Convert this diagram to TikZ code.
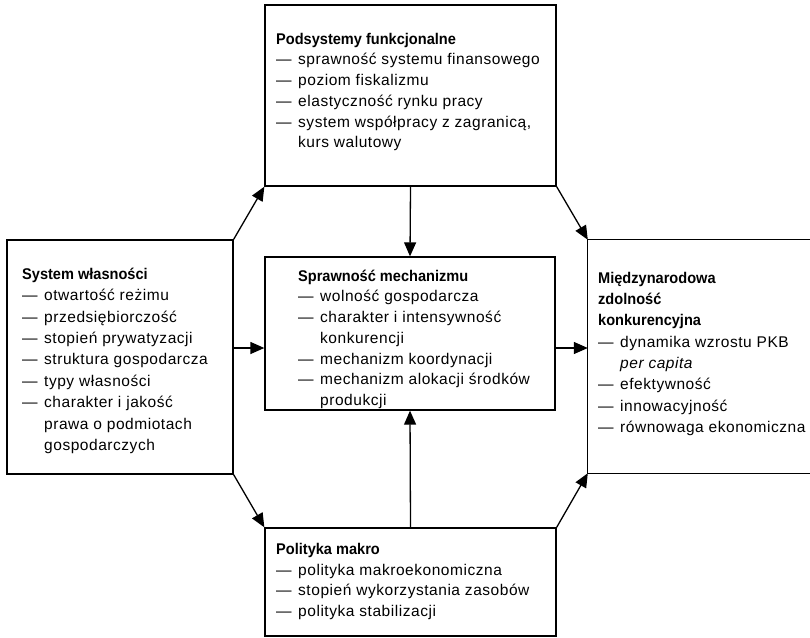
\documentclass[tikz,border=0pt]{standalone}
\usepackage{fontspec}
\setmainfont{Liberation Sans}[LetterSpace=3.5,BoldFeatures={FakeStretch=0.94,LetterSpace=0}]
\usetikzlibrary{arrows.meta}
\newcommand\dsh{\makebox[22pt][l]{—}}
\newcommand\cnt{\hspace*{22pt}}
\begin{document}
\begin{tikzpicture}[x=1pt,y=-1pt,
  box/.style={draw,line width=1.3pt,inner sep=0pt,minimum width=#1},
  txt/.style={anchor=north west,inner sep=0pt,align=left,font=\fontsize{15.5}{#1}\selectfont},
  txt/.default=21,
  arr/.style={line width=1.3pt,-{Triangle[length=14pt,width=12pt]}}]
\useasboundingbox (0,0) rectangle (810,637);
% boxes
\node[box=291pt,minimum height=181pt] (T) at (410.5,95.5) {};
\node[box=290pt,minimum height=153pt] (C) at (410,333.5) {};
\node[box=226pt,minimum height=234pt] (L) at (120,357) {};
\node[box=291pt,minimum height=108pt] (B) at (410.5,582) {};
\node[inner sep=0pt,minimum width=240pt,minimum height=233pt] (R) at (708,356.5) {};
\draw[line width=1.3pt] (R.north east) -- (R.north west) -- (R.south west) -- (R.south east);
% texts
\node[txt=20.7] (tT) at (276,32) {\rule{0pt}{12pt}\textbf{Podsystemy funkcjonalne}\\
\dsh sprawność systemu finansowego\\
\dsh poziom fiskalizmu\\
\dsh elastyczność rynku pracy\\
\dsh system współpracy z zagranicą,\\
\cnt kurs walutowy};
\node[txt=21.4] (tL) at (22,267) {\rule{0pt}{12pt}\textbf{System własności}\\
\dsh otwartość reżimu\\
\dsh przedsiębiorczość\\
\dsh stopień prywatyzacji\\
\dsh struktura gospodarcza\\
\dsh typy własności\\
\dsh charakter i jakość\\
\cnt prawa o podmiotach\\
\cnt gospodarczych};
\node[txt=20.7] (tC) at (298,269) {\rule{0pt}{12pt}\textbf{Sprawność mechanizmu}\\
\dsh wolność gospodarcza\\
\dsh charakter i intensywność\\
\cnt konkurencji\\
\dsh mechanizm koordynacji\\
\dsh mechanizm alokacji środków\\
\cnt produkcji};
\node[txt=21.3] (tR) at (598,271) {\rule{0pt}{12pt}\textbf{Międzynarodowa}\\
\textbf{zdolność}\\
\textbf{konkurencyjna}\\
\dsh dynamika wzrostu PKB\\
\cnt \textit{per capita}\\
\dsh efektywność\\
\dsh innowacyjność\\
\dsh równowaga ekonomiczna};
\node[txt=20.8] (tB) at (276,542) {\rule{0pt}{12pt}\textbf{Polityka makro}\\
\dsh polityka makroekonomiczna\\
\dsh stopień wykorzystania zasobów\\
\dsh polityka stabilizacji};
% connectors
\draw[arr] (L.north east) -- (T.south west);
\draw[arr] (T.south east) -- (R.north west);
\draw[arr] (L.south east) -- (B.north west);
\draw[arr] (B.north east) -- (R.south west);
\draw[arr] (T.south) -- (C.north);
\draw[arr] (B.north) -- (C.south);
\draw[arr] (L.east |- 0,348) -- (C.west |- 0,348);
\draw[arr] (C.east |- 0,348) -- (R.west |- 0,348);
\end{tikzpicture}
\end{document}
